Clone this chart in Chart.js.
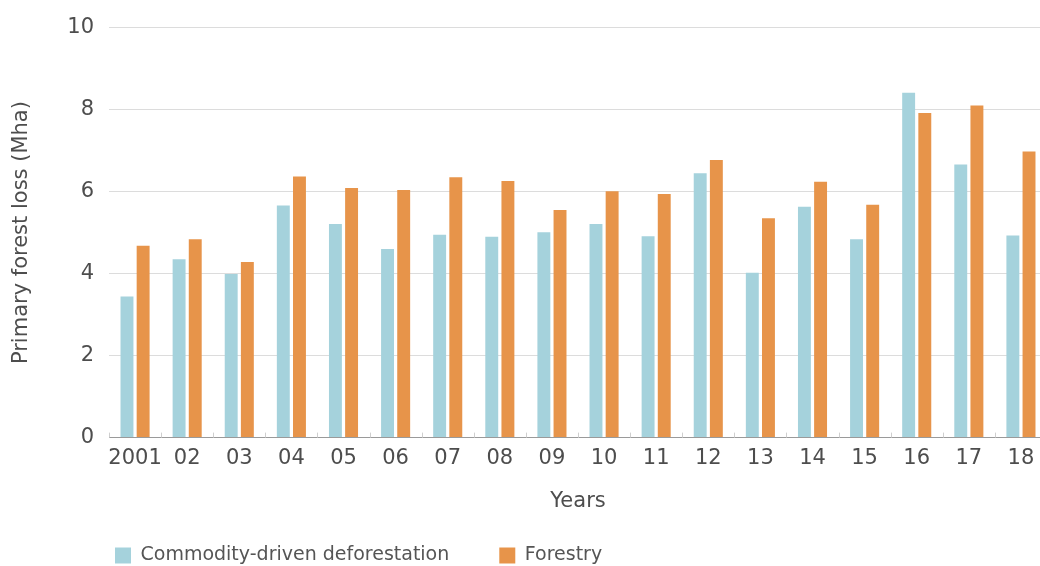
<!DOCTYPE html>
<html>
<head>
<meta charset="utf-8">
<script src="https://cdn.jsdelivr.net/npm/chart.js@4.4.1/dist/chart.umd.min.js"></script>
<style>
  html, body { margin: 0; padding: 0; background: #ffffff; overflow: hidden; }
  #wrap { position: relative; width: 1048px; height: 566px; }
</style>
</head>
<body>
<div id="wrap"><canvas id="chart"></canvas></div>
<script>
// Years on the x axis (2001, then two-digit years)
const years = ['2001', '02', '03', '04', '05', '06', '07', '08', '09', '10',
               '11', '12', '13', '14', '15', '16', '17', '18'];

// Primary forest loss by driver, million hectares
const commodityDriven = [3.44, 4.35, 3.99, 5.66, 5.21, 4.60, 4.95, 4.90, 5.01,
                         5.21, 4.91, 6.45, 4.02, 5.63, 4.84, 8.41, 6.66, 4.93];
const forestry = [4.68, 4.84, 4.28, 6.37, 6.09, 6.04, 6.35, 6.26, 5.55,
                  6.01, 5.94, 6.77, 5.35, 6.24, 5.68, 7.92, 8.10, 6.98];

// Y axis ticks
const yTicks = [0, 2, 4, 6, 8, 10];

const seriesNames = ['Commodity-driven deforestation', 'Forestry'];
const BLUE = '#a5d2dc';
const ORANGE = '#e7944a';
const FONT = "'DejaVu Sans', sans-serif";
const TEXT = '#4d4d4d';

// Short upward ticks on the x axis at each category boundary
const boundaryTicks = {
  id: 'boundaryTicks',
  afterDatasetsDraw(chart) {
    const x = chart.scales.x;
    const area = chart.chartArea;
    const ctx = chart.ctx;
    ctx.save();
    ctx.strokeStyle = '#cfcfcf';
    ctx.lineWidth = 1;
    for (let i = 0; i <= years.length; i++) {
      let px;
      if (i === 0) px = area.left;
      else if (i === years.length) px = area.right;
      else px = (x.getPixelForValue(i - 1) + x.getPixelForValue(i)) / 2;
      px = Math.round(px) + 0.5;
      ctx.beginPath();
      ctx.moveTo(px, area.bottom - 5);
      ctx.lineTo(px, area.bottom);
      ctx.stroke();
    }
    ctx.restore();
  }
};

// Legend row: fixed reserved height, placed under the left part of the plot
const legendPlacement = {
  id: 'legendPlacement',
  beforeLayout(chart) {
    const lg = chart.legend;
    if (lg && !lg._fixedFit) {
      const fit = lg.fit.bind(lg);
      lg.fit = function () { fit(); this.height = 52; };
      lg._fixedFit = true;
    }
  },
  afterLayout(chart) {
    const lg = chart.legend;
    if (!lg) return;
    lg.left = 65;
    lg.top = 496;
  }
};

new Chart(document.getElementById('chart'), {
  type: 'bar',
  data: {
    labels: years,
    datasets: [
      { label: seriesNames[0], data: commodityDriven, backgroundColor: BLUE },
      { label: seriesNames[1], data: forestry, backgroundColor: ORANGE }
    ]
  },
  plugins: [boundaryTicks, legendPlacement],
  options: {
    responsive: true,
    maintainAspectRatio: false,
    animation: false,
    layout: { padding: { top: 27, right: 1, left: 0, bottom: 0 } },
    categoryPercentage: 0.62,
    barPercentage: 0.8,
    plugins: {
      tooltip: { enabled: false },
      legend: {
        position: 'bottom',
        align: 'start',
        labels: {
          boxWidth: 16,
          boxHeight: 16,
          padding: 50,
          color: '#555555',
          font: { family: FONT, size: 19 }
        }
      }
    },
    scales: {
      x: {
        grid: { display: false },
        border: { display: true, color: '#9a9a9a', width: 1 },
        ticks: {
          color: TEXT,
          font: { family: FONT, size: 21 },
          padding: 0,
          maxRotation: 0,
          autoSkip: false
        },
        title: {
          display: true,
          text: 'Years',
          color: TEXT,
          font: { family: FONT, size: 21 },
          padding: { top: 18, bottom: 0 }
        }
      },
      y: {
        min: 0,
        max: 10,
        afterBuildTicks(scale) {
          scale.ticks = yTicks.map(v => ({ value: v }));
        },
        afterFit(scale) { scale.width = 109; },
        grid: { color: '#dcdcdc', drawTicks: false, lineWidth: 1 },
        border: { display: false },
        ticks: {
          color: TEXT,
          font: { family: FONT, size: 21 },
          padding: 15
        },
        title: {
          display: true,
          text: 'Primary forest loss (Mha)',
          color: TEXT,
          font: { family: FONT, size: 21 },
          padding: { top: 9, bottom: 0 }
        }
      }
    }
  }
});
</script>
</body>
</html>
